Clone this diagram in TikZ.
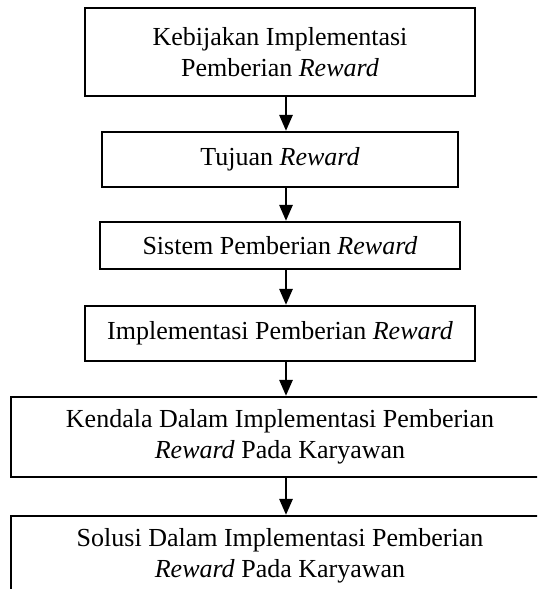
\documentclass[tikz,border=0pt]{standalone}
\usepackage{fontspec}
\setmainfont{Liberation Serif}
\usetikzlibrary{arrows.meta}
\begin{document}
\begin{tikzpicture}[x=0.75pt,y=-0.75pt,
  box/.style={draw, line width=1.8pt, inner sep=0pt, align=center,
    font=\fontsize{19.5}{23}\selectfont, anchor=center},
  arr/.style={line width=1.5pt, -{Triangle[length=12pt,width=10pt]}}]
\useasboundingbox (0,0) rectangle (537,589);
\clip (0,0) rectangle (537,589);
\coordinate (ax) at (286,0);
\node[box, minimum width=292.5pt, minimum height=66pt] (b1) at (280,52)
  {Kebijakan Implementasi\\Pemberian \textit{Reward}};
\node[box, minimum width=267pt, minimum height=41.25pt] (b2) at (280,159.5)
  {Tujuan \textit{Reward}};
\node[box, minimum width=270pt, minimum height=35.25pt] (b3) at (280,245.5)
  {Sistem Pemberian \textit{Reward}};
\node[box, minimum width=292.5pt, minimum height=41.25pt] (b4) at (280,333.5)
  {Implementasi Pemberian \textit{Reward}};
\node[box, minimum width=403.5pt, minimum height=60pt] (b5) at (280,437)
  {Kendala Dalam Implementasi Pemberian\\\textit{Reward} Pada Karyawan};
\node[box, minimum width=403.5pt, minimum height=60pt] (b6) at (280,556)
  {Solusi Dalam Implementasi Pemberian\\\textit{Reward} Pada Karyawan};
\draw[arr] (b1.south -| ax) -- (b2.north -| ax);
\draw[arr] (b2.south -| ax) -- (b3.north -| ax);
\draw[arr] (b3.south -| ax) -- (b4.north -| ax);
\draw[arr] (b4.south -| ax) -- (b5.north -| ax);
\draw[arr] (b5.south -| ax) -- (b6.north -| ax);
\end{tikzpicture}
\end{document}
